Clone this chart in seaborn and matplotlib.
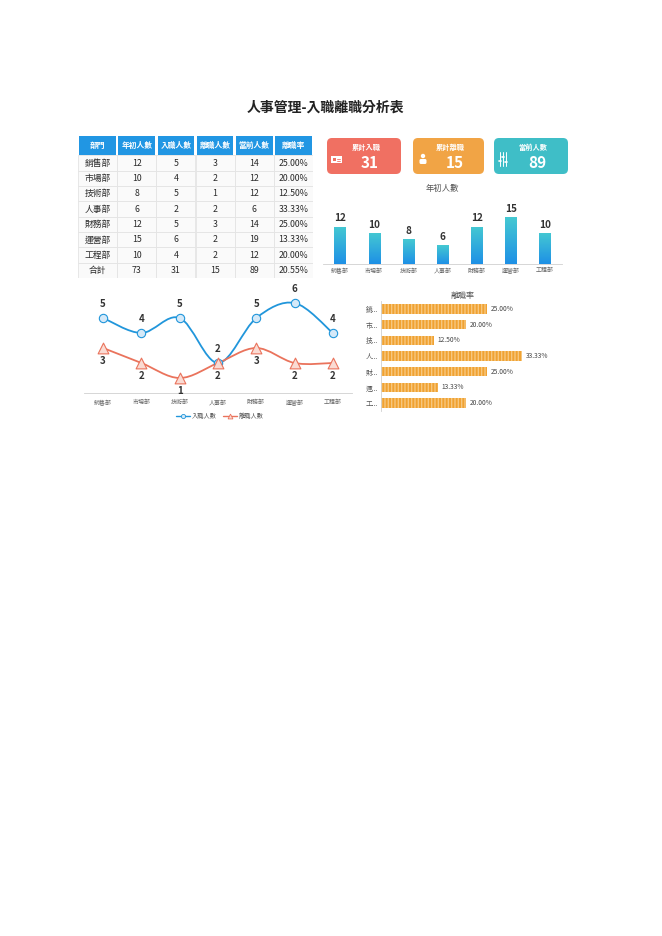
import numpy as np
import pandas as pd
import matplotlib
matplotlib.use("Agg")
import matplotlib.pyplot as plt
import seaborn as sns
from matplotlib.patches import FancyBboxPatch, Rectangle, Circle
from matplotlib.path import Path
from matplotlib.patches import PathPatch
from matplotlib.lines import Line2D

# ---------------- data ----------------
departments = ["銷售部", "市場部", "技術部", "人事部", "財務部", "運營部", "工程部"]
short_depts = ["銷...", "市...", "技...", "人...", "財...", "運...", "工..."]
start_count = [12, 10, 8, 6, 12, 15, 10]
hired = [5, 4, 5, 2, 5, 6, 4]
left = [3, 2, 1, 2, 3, 2, 2]
current = [14, 12, 12, 6, 14, 19, 12]
turnover = [0.25, 0.20, 0.125, 0.3333, 0.25, 0.1333, 0.20]
turnover_labels = ["25.00%", "20.00%", "12.50%", "33.33%", "25.00%", "13.33%", "20.00%"]
total_row = ["合計", "73", "31", "15", "89", "20.55%"]
headers = ["部門", "年初人數", "入職人數", "離職人數", "當前人數", "離職率"]
kpi_titles = ["累計入職", "累計離職", "當前人數"]
kpi_values = ["31", "15", "89"]
title = "人事管理-入職離職分析表"

sns.set_theme(style="white")
plt.rcParams["font.family"] = ["Noto Sans CJK TC", "DejaVu Sans"]
NUMF = ["Liberation Sans Narrow", "Noto Sans CJK TC", "DejaVu Sans"]

W, H = 662, 936
fig = plt.figure(figsize=(W / 100, H / 100), dpi=100)
fig.patch.set_facecolor("white")


def box(x0, y0, x1, y1):
    return [x0 / W, 1 - y1 / H, (x1 - x0) / W, (y1 - y0) / H]


# ---------------- title ----------------
fig.text(325 / W, 1 - 108 / H, title, ha="center", va="center",
         fontsize=10, fontweight="bold", color="#222222")

# ---------------- table ----------------
axt = fig.add_axes(box(78, 136, 313, 278))
axt.set_xlim(0, 6)
nrows = len(departments) + 1
hdr_h = 1.25
axt.set_ylim(hdr_h + nrows, 0)
axt.axis("off")
rows = []
for i, d in enumerate(departments):
    rows.append([d, str(start_count[i]), str(hired[i]), str(left[i]),
                 str(current[i]), turnover_labels[i]])
rows.append(total_row)
for j, h in enumerate(headers):
    axt.add_patch(Rectangle((j + 0.03, 0), 0.94, hdr_h, facecolor="#2196e3",
                            edgecolor="none"))
    axt.text(j + 0.5, hdr_h / 2, h, ha="center", va="center", color="white",
             fontsize=5.6, fontweight="bold")
for i, r in enumerate(rows):
    y = hdr_h + i
    for j, v in enumerate(r):
        axt.add_patch(Rectangle((j, y), 1, 1, facecolor="#fafafa",
                                edgecolor="#e3e3e3", linewidth=0.6))
        axt.text(j + 0.5, y + 0.52, v, ha="center", va="center",
                 color="#2a2a2a", fontsize=6.3)

# ---------------- KPI cards ----------------
card_colors = ["#f07062", "#f1a445", "#3fbec7"]
card_x = [(326, 402), (412, 485), (493, 569)]
for k in range(3):
    x0, x1 = card_x[k]
    y0, y1 = 137, 175
    axc = fig.add_axes(box(x0, y0, x1, y1))
    axc.set_xlim(x0, x1)
    axc.set_ylim(y1, y0)
    axc.axis("off")
    axc.add_patch(FancyBboxPatch((x0 + 1, y0 + 1), x1 - x0 - 2, y1 - y0 - 2,
                                 boxstyle="round,pad=0,rounding_size=5",
                                 facecolor=card_colors[k], edgecolor="none",
                                 clip_on=False))
    cx = (x0 + x1) / 2 + 4
    axc.text(cx - 2, y0 + 10, kpi_titles[k], ha="center", va="center",
             color="white", fontsize=5.2, fontweight="bold")
    axc.text(cx + 2, y0 + 26, kpi_values[k], ha="center", va="center",
             color="white", fontsize=11, fontweight="bold", family=NUMF)
    ix = x0 + 10
    iy = y0 + 22
    if k == 0:
        axc.add_patch(Rectangle((ix - 5, iy - 3), 11, 7, facecolor="white",
                                edgecolor="none"))
        axc.add_patch(Rectangle((ix - 3.5, iy - 1), 3, 3, facecolor=card_colors[k],
                                edgecolor="none"))
        axc.plot([ix + 0.5, ix + 4], [iy - 0.5, iy - 0.5], color=card_colors[k], lw=0.6)
        axc.plot([ix + 0.5, ix + 4], [iy + 1.5, iy + 1.5], color=card_colors[k], lw=0.6)
    elif k == 1:
        axc.add_patch(Circle((ix + 1, iy - 3), 2.2, facecolor="white", edgecolor="none"))
        axc.add_patch(FancyBboxPatch((ix - 2.5, iy), 7, 5,
                                     boxstyle="round,pad=0,rounding_size=1.5",
                                     facecolor="white", edgecolor="none"))
    else:
        for dx in (-3, 0, 3):
            axc.plot([ix + dx, ix + dx], [iy - 7, iy + 7], color="white", lw=0.7)
        for dx, dy in ((-3, 2), (0, -2), (3, 3)):
            axc.plot([ix + dx - 1.2, ix + dx + 1.2], [iy + dy, iy + dy], color="white", lw=1.2)

# ---------------- bar chart (年初人數) ----------------
df = pd.DataFrame({"dept": departments, "start": start_count, "hired": hired,
                   "left": left, "rate": turnover, "rate_lbl": turnover_labels})
axb = fig.add_axes(box(323, 200, 562, 264))
sns.barplot(data=df, x="dept", y="start", ax=axb, width=0.33, color="#2aa0e0",
            saturation=1)
grad = np.linspace(0, 1, 256).reshape(-1, 1)
cmap = matplotlib.colors.LinearSegmentedColormap.from_list("g", ["#1e90e6", "#45c9d2"])
for p, v in zip(axb.patches, start_count):
    bx, by, bw, bh = p.get_x(), p.get_y(), p.get_width(), p.get_height()
    im = axb.imshow(grad, extent=[bx, bx + bw, by, by + bh], origin="lower",
                    cmap=cmap, aspect="auto", zorder=3)
    im.set_clip_path(p)
    axb.text(bx + bw / 2, by + bh + 1.0, str(v), ha="center", va="bottom",
             fontsize=7.2, fontweight="bold", color="#333333", family=NUMF)
axb.set_xlim(-0.5, 6.5)
axb.set_ylim(0, 20.5)
axb.set_xlabel("")
axb.set_ylabel("")
axb.set_yticks([])
axb.tick_params(axis="x", labelsize=4.3, colors="#666666", length=0, pad=3)
for s in ["top", "right", "left"]:
    axb.spines[s].set_visible(False)
axb.spines["bottom"].set_color("#d0d0d0")
axb.spines["bottom"].set_linewidth(0.6)
fig.text(442 / W, 1 - 188 / H, "年初人數", ha="center", va="center",
         fontsize=6, color="#555555")

# ---------------- line chart ----------------
axl = fig.add_axes(box(84, 288, 352, 393))
xs = np.arange(len(departments))


def smooth_path(x, y):
    pts = np.column_stack([x, y]).astype(float)
    verts = [pts[0]]
    codes = [Path.MOVETO]
    n = len(pts)
    for i in range(n - 1):
        p0 = pts[i - 1] if i > 0 else pts[i]
        p1 = pts[i]
        p2 = pts[i + 1]
        p3 = pts[i + 2] if i + 2 < n else pts[i + 1]
        c1 = p1 + (p2 - p0) / 6
        c2 = p2 - (p3 - p1) / 6
        verts += [c1, c2, p2]
        codes += [Path.CURVE4] * 3
    return Path(verts, codes)


blue, red = "#2196db", "#ea735c"
axl.add_patch(PathPatch(smooth_path(xs, hired), facecolor="none", edgecolor=blue, lw=1.3, zorder=2))
axl.add_patch(PathPatch(smooth_path(xs, left), facecolor="none", edgecolor=red, lw=1.3, zorder=2))
sns.scatterplot(x=xs, y=hired, ax=axl, marker="o", s=36, color="#d5e9f8",
                edgecolor=blue, linewidth=0.8, zorder=3)
sns.scatterplot(x=xs, y=left, ax=axl, marker="^", s=60, color="#fadbd3",
                edgecolor=red, linewidth=0.8, zorder=3)
for x, v in zip(xs, hired):
    axl.text(x, v + 0.6, str(v), ha="center", va="bottom", fontsize=7,
             fontweight="bold", color="#333333", family=NUMF)
for x, v in zip(xs, left):
    axl.text(x, v - 0.55, str(v), ha="center", va="top", fontsize=7,
             fontweight="bold", color="#333333", family=NUMF)
axl.set_xlim(-0.5, 6.5)
axl.set_ylim(0, 7)
axl.set_xticks(xs)
axl.set_xticklabels(departments)
axl.set_yticks([])
axl.tick_params(axis="x", labelsize=4.3, colors="#666666", length=0, pad=5)
for s in ["top", "right", "left"]:
    axl.spines[s].set_visible(False)
axl.spines["bottom"].set_color("#d0d0d0")
axl.spines["bottom"].set_linewidth(0.6)
handles = [Line2D([0], [0], color=blue, lw=1, marker="o", markersize=3,
                  markerfacecolor="#d5e9f8", markeredgecolor=blue, markeredgewidth=0.6),
           Line2D([0], [0], color=red, lw=1, marker="^", markersize=3.5,
                  markerfacecolor="#fadbd3", markeredgecolor=red, markeredgewidth=0.6)]
fig.legend(handles, ["入職人數", "離職人數"], loc="center",
           bbox_to_anchor=(220 / W, 1 - 416 / H), ncol=2, frameon=False,
           fontsize=4.5, handlelength=2.2, columnspacing=1.0, handletextpad=0.3,
           labelcolor="#555555")

# ---------------- horizontal bar chart (離職率) ----------------
axh = fig.add_axes(box(381, 301, 572, 411))
sns.barplot(data=df, y="dept", x="rate", ax=axh, orient="h", width=0.6,
            color="#f0a232", saturation=1)
plt.rcParams["hatch.linewidth"] = 0.35
for p in axh.patches:
    p.set_hatch("|||||")
    p.set_edgecolor("#f7c77f")
    p.set_linewidth(0)
for i, (v, lbl) in enumerate(zip(turnover, turnover_labels)):
    axh.text(v + 0.009, i, lbl, ha="left", va="center", fontsize=4.8, color="#444444")
axh.set_xlim(0, 0.45)
axh.set_ylim(6.5, -0.5)
axh.set_yticks(range(len(departments)))
axh.set_yticklabels(short_depts)
axh.set_xticks([])
axh.set_xlabel("")
axh.set_ylabel("")
axh.tick_params(axis="y", labelsize=4.8, colors="#555555", length=0, pad=2)
for s in ["top", "right", "bottom"]:
    axh.spines[s].set_visible(False)
axh.spines["left"].set_color("#d0d0d0")
axh.spines["left"].set_linewidth(0.6)
fig.text(463 / W, 1 - 295 / H, "離職率", ha="center", va="center",
         fontsize=5.8, color="#555555")

fig.savefig("out.png", dpi=100, facecolor="white")
